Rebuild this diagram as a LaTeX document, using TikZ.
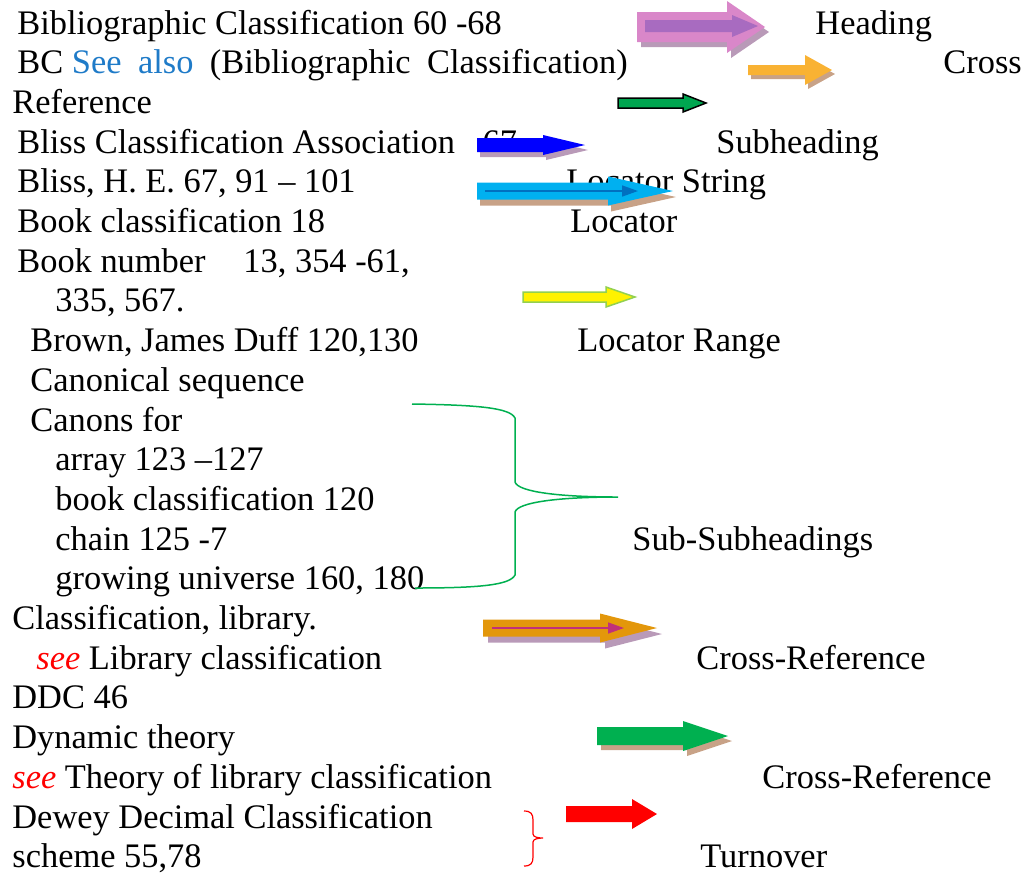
\documentclass[tikz,border=0pt]{standalone}
\usepackage{fontspec}
\setmainfont{Liberation Serif}
\usetikzlibrary{arrows.meta}

\definecolor{hdpink}{HTML}{D987C9}
\definecolor{hdpurple}{HTML}{A86BC0}
\definecolor{xrorange}{HTML}{F9B233}
\definecolor{xrgreen}{HTML}{00A650}
\definecolor{shblue}{HTML}{0000FF}
\definecolor{lscyan}{HTML}{00B0F0}
\definecolor{lsinner}{HTML}{0070C0}
\definecolor{lrgreen}{HTML}{92D050}
\definecolor{ssgreen}{HTML}{00B050}
\definecolor{crgold}{HTML}{E3970B}
\definecolor{crmagenta}{HTML}{C0307A}
\definecolor{seeblue}{HTML}{1F7BC8}
\definecolor{shadowtan}{HTML}{C8A287}
\definecolor{shadowmauve}{HTML}{B99AB8}

% block arrow: style, tail x, neck x, tip x, centre y, half shaft, half head
\newcommand{\blockarrow}[7]{%
  \fill[#1] ({#2},{#5-#6}) -- ({#3},{#5-#6}) -- ({#3},{#5-#7}) -- ({#4},{#5})
    -- ({#3},{#5+#7}) -- ({#3},{#5+#6}) -- ({#2},{#5+#6}) -- cycle;}

\begin{document}
\begin{tikzpicture}[x=0.5pt,y=-0.5pt,
  entry/.style={anchor=base west,inner sep=0pt,font=\fontsize{17.2}{20}\selectfont},
  inner/.style={line width=0.75pt,-{Triangle[length=8pt,width=5.5pt]}}]
\useasboundingbox (0,0) rectangle (1032,875);

% index entries
\node[entry] (bibl)   at (17,34)    {Bibliographic Classification 60 -68};
\node[entry] (bc)     at (17,73.7)  {BC \textcolor{seeblue}{See\hspace{0.48em}also}\hspace{0.48em}(Bibliographic\hspace{0.48em}Classification)};
\node[entry] (ref)    at (12,113.4) {Reference};
\node[entry] (blassn) at (17,153.1) {Bliss Classification Association\hspace{0.8em}67};
\node[entry] (bliss)  at (17,192.8) {Bliss, H. E. 67, 91 -- 101};
\node[entry] (bkcl)   at (17,232.5) {Book classification 18};
\node[entry] (bknum)  at (17,272.2) {Book number\hspace{1.1em}13, 354 -61,};
\node[entry] (bknum2) at (55,311.9) {335, 567.};
\node[entry] (brown)  at (30,351.6) {Brown, James Duff 120,130};
\node[entry] (canseq) at (30,391.3) {Canonical sequence};
\node[entry] (canons) at (30,431)   {Canons for};
\node[entry] (array)  at (55,470.7) {array 123 --127};
\node[entry] (bookcl) at (55,510.4) {book classification 120};
\node[entry] (chain)  at (55,550.1) {chain 125 -7};
\node[entry] (grow)   at (55,589.8) {growing universe 160, 180};
\node[entry] (cllib)  at (12,629.5) {Classification, library.};
\node[entry] (seelib) at (36,669.2) {\textcolor{red}{\itshape see} Library classification};
\node[entry] (ddc)    at (12,708.9) {DDC 46};
\node[entry] (dyn)    at (12,748.6) {Dynamic theory};
\node[entry] (seeth)  at (12,788.3) {\textcolor{red}{\itshape see} Theory of library classification};
\node[entry] (dewey)  at (12,828)   {Dewey Decimal Classification};
\node[entry] (scheme) at (12,867.2) {scheme 55,78};

% labels
\node[entry] (lhead)  at (815,34)    {Heading};
\node[entry] (lcross) at (943,73.7)  {Cross};
\node[entry] (lsub)   at (716,153.1) {Subheading};
\node[entry] (lstr)   at (566,192.8) {Locator String};
\node[entry] (lloc)   at (570,232.5) {Locator};
\node[entry] (lrange) at (577,351.6) {Locator Range};
\node[entry] (lsubsub) at (632,550.1) {Sub-Subheadings};
\node[entry] (lxref)  at (696,669.2) {Cross-Reference};
\node[entry] (lxref2) at (762,788.3) {Cross-Reference};
\node[entry] (lturn)  at (700,867.2) {Turnover};

% arrows
\blockarrow{shadowmauve,shift={(4,5)}}{637}{727}{765}{27}{15}{26}
\blockarrow{hdpink}{637}{727}{765}{27}{15}{26}
\blockarrow{hdpurple}{645}{732}{758}{26}{6}{11}

\blockarrow{shadowtan,shift={(3,4)}}{748}{805}{832}{70}{5}{15}
\blockarrow{xrorange}{748}{805}{832}{70}{5}{15}

\blockarrow{xrgreen,draw=black,line width=0.75pt}{618}{683}{706}{103}{5}{9}

\blockarrow{shadowmauve,shift={(3,5)}}{477}{543}{585}{145}{7}{10}
\blockarrow{shblue}{477}{543}{585}{145}{7}{10}

\blockarrow{shadowtan,shift={(3,6)}}{477}{608}{673}{191}{8.5}{14.5}
\blockarrow{lscyan}{477}{608}{673}{191}{8.5}{14.5}
\draw[inner,lsinner] (485,191) -- (638,191);

\blockarrow{yellow,draw=lrgreen,line width=0.75pt}{523}{606}{635}{297}{5}{10}

\draw[ssgreen,line width=0.75pt] (412,404) .. controls (480,405) and (510,408) .. (515,418)
  -- (515,482) .. controls (518,492) and (560,497) .. (618,497)
  .. controls (560,497) and (518,502) .. (515,512)
  -- (515,575) .. controls (510,585) and (480,588) .. (415,588);

\blockarrow{shadowmauve,shift={(5,6)}}{483}{600}{657}{628}{8.5}{14.5}
\blockarrow{crgold}{483}{600}{657}{628}{8.5}{14.5}
\draw[inner,crmagenta] (492,628) -- (624,628);

\blockarrow{shadowtan,shift={(4,5)}}{597}{683}{728}{736}{9}{15}
\blockarrow{ssgreen}{597}{683}{728}{736}{9}{15}

\blockarrow{red}{566}{632}{657}{814}{8}{15}

\draw[red,line width=0.6pt] (524,811) .. controls (531,811) and (533,814) .. (533,820)
  -- (533,834) .. controls (533,837) and (538,838) .. (543,838)
  .. controls (538,838) and (533,839) .. (533,842)
  -- (533,857) .. controls (533,863) and (531,866) .. (524,866);
\end{tikzpicture}
\end{document}
